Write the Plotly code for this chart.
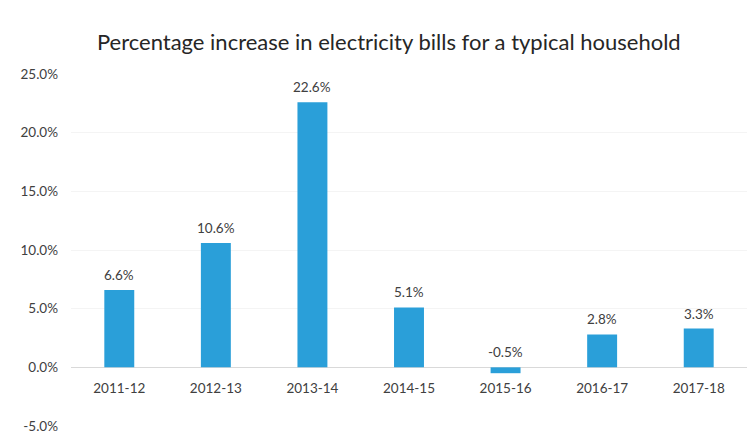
import plotly.graph_objects as go

years = ["2011-12", "2012-13", "2013-14", "2014-15", "2015-16", "2016-17", "2017-18"]
increase = [6.6, 10.6, 22.6, 5.1, -0.5, 2.8, 3.3]
y_ticks = [-5, 0, 5, 10, 15, 20, 25]
y_tick_labels = ["-5.0%", "0.0%", "5.0%", "10.0%", "15.0%", "20.0%", "25.0%"]
y_range = [-5, 25]

bar_color = "#2a9fd9"
text_color = "#404040"
font_family = "Lato, 'Liberation Sans Narrow', sans-serif"

fig = go.Figure()
fig.add_trace(go.Bar(
    x=years, y=increase, marker=dict(color=bar_color, line=dict(width=0)),
    hoverinfo="skip", showlegend=False,
))
for yr, v in zip(years, increase):
    fig.add_annotation(
        x=yr, y=max(v, 0), text=f"{v:.1f}%", showarrow=False,
        yanchor="bottom", yshift=5,
        font=dict(size=13.5, color=text_color, family=font_family),
    )

zero_pos = (0 - y_range[0]) / (y_range[1] - y_range[0])

fig.update_layout(
    width=752, height=443,
    margin=dict(l=71, r=5, t=74, b=17),
    paper_bgcolor="white", plot_bgcolor="white",
    bargap=0.69,
    title=dict(
        text="Percentage increase in electricity bills for a typical household",
        x=0.517, xanchor="center", y=0.905, yanchor="middle",
        font=dict(size=22, color="#262626", family=font_family),
    ),
    font=dict(family=font_family, color=text_color, size=13.5),
)
fig.update_xaxes(
    type="category", showline=False, showgrid=False, ticks="",
    tickfont=dict(size=13.5, color=text_color),
    ticklabelstandoff=11, anchor="free", position=zero_pos,
)
fig.update_yaxes(
    range=y_range, tickvals=y_ticks, ticktext=y_tick_labels,
    showgrid=True, gridcolor="#f4f4f4", zeroline=True, zerolinecolor="#d9d9d9",
    zerolinewidth=1, showline=False, ticks="", ticklabelstandoff=12,
    tickfont=dict(size=13.5, color=text_color),
)
fig.write_html(
    "out.html",
    config={"displayModeBar": False},
    post_script="document.body.style.margin='0';",
)
